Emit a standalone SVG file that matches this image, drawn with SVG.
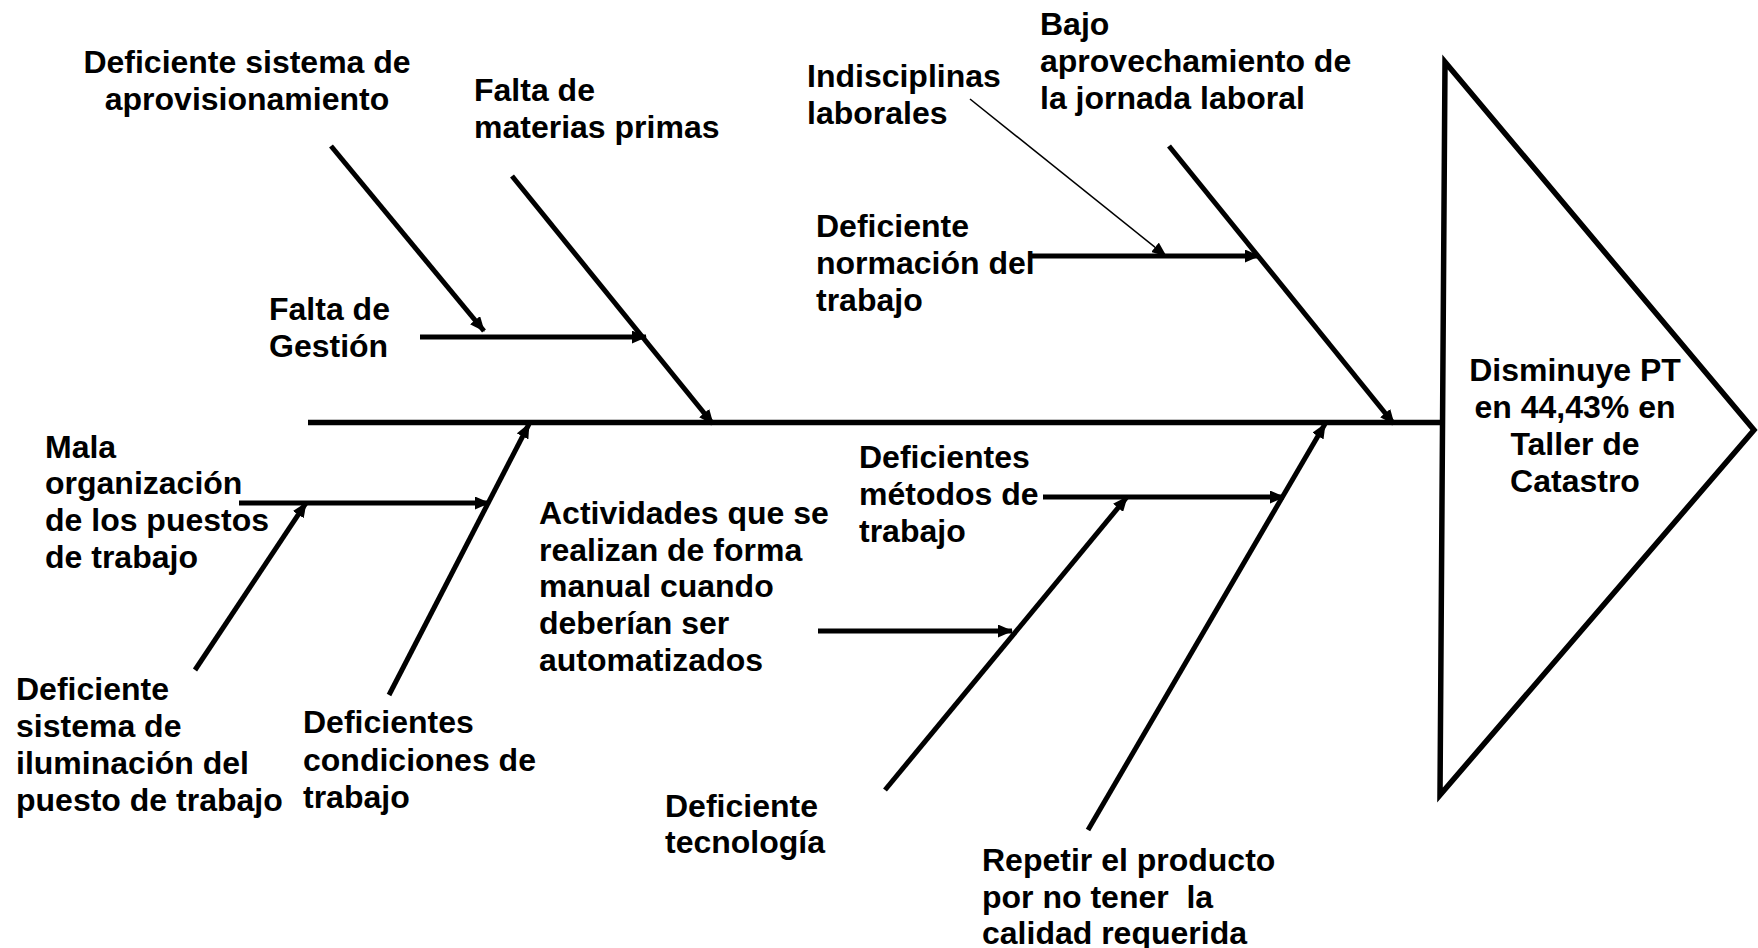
<svg xmlns="http://www.w3.org/2000/svg" width="1758" height="948" viewBox="0 0 1758 948">
<style>
text{font-family:"Liberation Sans",Arial,sans-serif;font-weight:bold;font-size:32px;fill:#000}
.b{stroke:#000;stroke-width:5;fill:none}
.t{stroke:#000;stroke-width:1.6;fill:none}
</style>
<defs>
<marker id="ah" markerUnits="userSpaceOnUse" markerWidth="15" markerHeight="13" refX="14" refY="6.5" orient="auto">
<path d="M0,0 L15,6.5 L0,13 z" fill="#000"/>
</marker>
<marker id="ahs" markerUnits="userSpaceOnUse" markerWidth="15" markerHeight="12" refX="14" refY="6" orient="auto">
<path d="M0,0 L15,6 L0,12 z" fill="#000"/>
</marker>
</defs>
<rect width="1758" height="948" fill="#fff"/>
<g id="connectors">
<line class="b" x1="308" y1="422.5" x2="1440" y2="422.5" style="stroke-width:5.5"/>
<line class="b" x1="512" y1="176" x2="713" y2="424" marker-end="url(#ah)"/>
<line class="b" x1="420" y1="337" x2="646" y2="337" marker-end="url(#ah)"/>
<line class="b" x1="331" y1="146" x2="484" y2="331" marker-end="url(#ah)"/>
<line class="b" x1="1169" y1="146" x2="1394" y2="424" marker-end="url(#ah)"/>
<line class="b" x1="1031" y1="256" x2="1259" y2="256" marker-end="url(#ah)"/>
<line class="t" x1="970" y1="99" x2="1166" y2="256" marker-end="url(#ahs)"/>
<line class="b" x1="389" y1="695" x2="529" y2="424" marker-end="url(#ah)"/>
<line class="b" x1="239" y1="503" x2="489" y2="503" marker-end="url(#ah)"/>
<line class="b" x1="195" y1="670" x2="306" y2="503" marker-end="url(#ah)"/>
<line class="b" x1="1088" y1="830" x2="1325" y2="424" marker-end="url(#ah)"/>
<line class="b" x1="1043" y1="497" x2="1284" y2="497" marker-end="url(#ah)"/>
<line class="b" x1="885" y1="790" x2="1127" y2="497" marker-end="url(#ah)"/>
<line class="b" x1="818" y1="631" x2="1012" y2="631" marker-end="url(#ah)"/>
</g>
<g id="effect">
<polygon points="1445,62 1754,430 1440,795" fill="#fff" stroke="#000" stroke-width="5.5" stroke-linejoin="miter"/>
<text text-anchor="middle"><tspan x="1575" y="381">Disminuye PT</tspan><tspan x="1575" y="418">en 44,43% en</tspan><tspan x="1575" y="455">Taller de</tspan><tspan x="1575" y="492">Catastro</tspan></text>
</g>
<g id="n-aprov"><text text-anchor="middle"><tspan x="247" y="73">Deficiente sistema de</tspan><tspan x="247" y="110">aprovisionamiento</tspan></text></g>
<g id="n-materias"><text><tspan x="474" y="101">Falta de</tspan><tspan x="474" y="138">materias primas</tspan></text></g>
<g id="n-gestion"><text><tspan x="269" y="320">Falta de</tspan><tspan x="269" y="357">Gestión</tspan></text></g>
<g id="n-indisc"><text><tspan x="807" y="87">Indisciplinas</tspan><tspan x="807" y="124">laborales</tspan></text></g>
<g id="n-bajo"><text><tspan x="1040" y="35">Bajo</tspan><tspan x="1040" y="72">aprovechamiento de</tspan><tspan x="1040" y="109">la jornada laboral</tspan></text></g>
<g id="n-normacion"><text><tspan x="816" y="237">Deficiente</tspan><tspan x="816" y="274">normación del</tspan><tspan x="816" y="311">trabajo</tspan></text></g>
<g id="n-mala"><text><tspan x="45" y="458">Mala</tspan><tspan x="45" y="494">organización</tspan><tspan x="45" y="531">de los puestos</tspan><tspan x="45" y="568">de trabajo</tspan></text></g>
<g id="n-ilum"><text><tspan x="16" y="700">Deficiente</tspan><tspan x="16" y="737">sistema de</tspan><tspan x="16" y="774">iluminación del</tspan><tspan x="16" y="811">puesto de trabajo</tspan></text></g>
<g id="n-condiciones"><text><tspan x="303" y="733">Deficientes</tspan><tspan x="303" y="771">condiciones de</tspan><tspan x="303" y="808">trabajo</tspan></text></g>
<g id="n-actividades"><text><tspan x="539" y="524">Actividades que se</tspan><tspan x="539" y="561">realizan de forma</tspan><tspan x="539" y="597">manual cuando</tspan><tspan x="539" y="634">deberían ser</tspan><tspan x="539" y="671">automatizados</tspan></text></g>
<g id="n-metodos"><text><tspan x="859" y="468">Deficientes</tspan><tspan x="859" y="505">métodos de</tspan><tspan x="859" y="542">trabajo</tspan></text></g>
<g id="n-tecnologia"><text><tspan x="665" y="817">Deficiente</tspan><tspan x="665" y="853">tecnología</tspan></text></g>
<g id="n-repetir"><text xml:space="preserve"><tspan x="982" y="871">Repetir el producto</tspan><tspan x="982" y="908">por no tener  la</tspan><tspan x="982" y="944">calidad requerida</tspan></text></g>
</svg>
